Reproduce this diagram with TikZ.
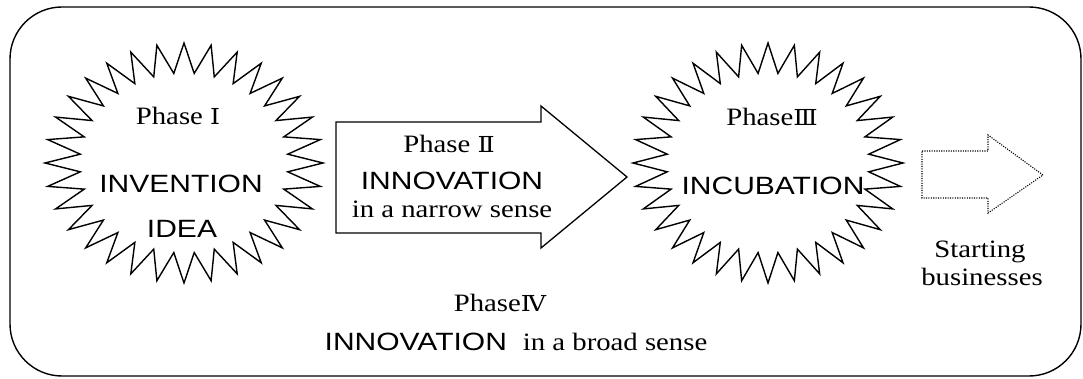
\documentclass[tikz,border=0pt]{standalone}
\usepackage{fontspec}
\usepackage{graphicx}
\setmainfont{Liberation Serif}
\newfontfamily\capsans{Liberation Sans}
\newfontfamily\numfont{DejaVu Serif}

% widened serif and sans lines
\newcommand{\serifline}[1]{\scalebox{1.15}[1]{\fontsize{25}{25}\selectfont #1}}
\newcommand{\sansline}[1]{\scalebox{1.2}[1]{\fontsize{25}{25}\capsans #1}}
\newcommand{\rnum}[1]{{\fontsize{22}{22}\numfont #1}}

\tikzset{
  x=1pt, y=-1pt,
  txt/.style={inner sep=0pt, outer sep=0pt, anchor=base},
  frame/.style={draw, line width=1.4pt, rounded corners=52pt},
  starline/.style={draw, fill=white, line width=1.4pt, line join=miter},
  blockarrow/.style={draw, fill=white, line width=1.3pt},
  dotarrow/.style={draw, line width=1.1pt, dash pattern=on 1.1pt off 1.3pt},
}

\begin{document}
\begin{tikzpicture}
\useasboundingbox (0,0) rectangle (1083,379);

% outer frame
\draw[frame] (10,7) rectangle (1081,376);

% two 32-point stars
\coordinate (c1) at (184,163);
\coordinate (c3) at (768,163);
\begin{scope}[shift={(c1)}]
  \draw[starline] plot[samples at={0,...,63}, variable=\k]
    ({139*(0.875+0.125*cos(180*\k))*cos(5.625*\k)},
     {120*(0.875+0.125*cos(180*\k))*sin(5.625*\k)}) -- cycle;
\end{scope}
\begin{scope}[shift={(c3)}]
  \draw[starline] plot[samples at={0,...,63}, variable=\k]
    ({135*(0.875+0.125*cos(180*\k))*cos(5.625*\k)},
     {120*(0.875+0.125*cos(180*\k))*sin(5.625*\k)}) -- cycle;
\end{scope}

% block arrow of phase II
\coordinate (a1) at (336,122);
\coordinate (a2) at (541,122);
\coordinate (a3) at (541,106);
\coordinate (a4) at (627,177);
\coordinate (a5) at (541,248);
\coordinate (a6) at (541,233);
\coordinate (a7) at (336,233);
\draw[blockarrow] (a1) -- (a2) -- (a3) -- (a4) -- (a5) -- (a6) -- (a7) -- cycle;

% dotted arrow towards starting businesses
\coordinate (d1) at (922,151);
\coordinate (d2) at (988,151);
\coordinate (d3) at (988,135);
\coordinate (d4) at (1043,175);
\coordinate (d5) at (988,213);
\coordinate (d6) at (988,198);
\coordinate (d7) at (922,198);
\draw[dotarrow] (d1) -- (d2) -- (d3) -- (d4) -- (d5) -- (d6) -- (d7) -- cycle;

% phase I
\node[txt] (p1) at (178,125) {\serifline{Phase \rnum{Ⅰ}}};
\node[txt] (p1a) at (181,193) {\sansline{INVENTION}};
\node[txt] (p1b) at (182,237) {\sansline{IDEA}};

% phase II
\node[txt] (p2) at (449,153) {\serifline{Phase \rnum{Ⅱ}}};
\node[txt] (p2a) at (452,190) {\sansline{INNOVATION}};
\node[txt] (p2b) at (452,218) {\serifline{in a narrow sense}};

% phase III
\node[txt] (p3) at (772,126) {\serifline{Phase\rnum{Ⅲ}}};
\node[txt] (p3a) at (773,195) {\sansline{INCUBATION}};

% phase IV
\node[txt] (p4) at (500,311) {\serifline{Phase\rnum{Ⅳ}}};
\node[txt] (p4a) at (516,350) {\sansline{INNOVATION}\hspace{16pt}\serifline{in a broad sense}};

% outcome
\node[txt] (s1) at (980,258) {\serifline{Starting}};
\node[txt] (s2) at (982,285) {\serifline{businesses}};
\end{tikzpicture}
\end{document}
